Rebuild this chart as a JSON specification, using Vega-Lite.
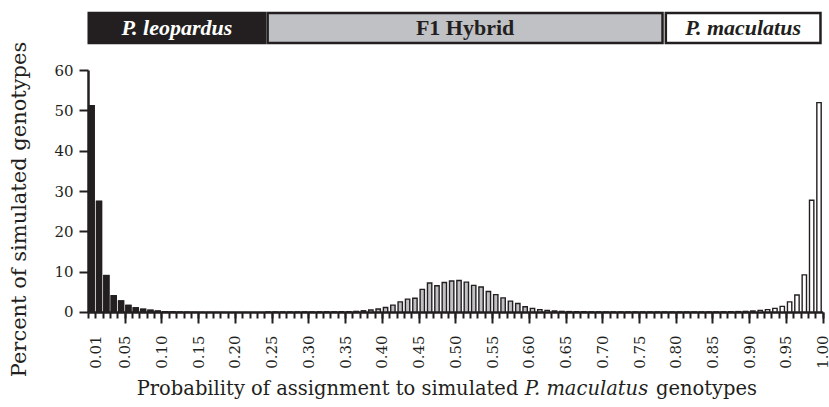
{
  "$schema": "https://vega.github.io/schema/vega-lite/v6.json",
  "padding": {"left": 8, "top": 11, "right": 2, "bottom": 2},
  "background": "white",
  "bounds": "flush",
  "spacing": 27,
  "config": {
    "view": {"stroke": null},
    "font": "DejaVu Serif",
    "axis": {
      "domainColor": "#231f20", "tickColor": "#231f20", "labelColor": "#231f20", "titleColor": "#231f20",
      "labelFont": "DejaVu Serif", "titleFont": "DejaVu Serif", "titleFontWeight": "normal",
      "grid": false, "domainWidth": 2.5, "tickWidth": 2, "labelFontSize": 15, "titleFontSize": 19.5
    }
  },
  "vconcat": [
    {
      "width": 734.7,
      "height": 30,
      "data": {"values": [
        {"label": "P. leopardus", "start": 0.001, "end": 0.241, "group": "leopardus", "italic": true},
        {"label": "F1 Hybrid", "start": 0.2445, "end": 0.782, "group": "hybrid", "italic": false},
        {"label": "P. maculatus", "start": 0.7865, "end": 0.997, "group": "maculatus", "italic": true}
      ]},
      "transform": [{"calculate": "(datum.start + datum.end) / 2", "as": "mid"}],
      "layer": [
        {
          "mark": {"type": "rect", "stroke": "#231f20", "strokeWidth": 2.5},
          "encoding": {
            "x": {"field": "start", "type": "quantitative", "scale": {"domain": [0, 1], "nice": false, "zero": false}, "axis": null},
            "x2": {"field": "end"},
            "fill": {"field": "group", "type": "nominal", "scale": {"domain": ["leopardus", "hybrid", "maculatus"], "range": ["#231f20", "#c0c1c5", "#ffffff"]}, "legend": null}
          }
        },
        {
          "transform": [{"filter": "datum.italic"}],
          "mark": {"type": "text", "font": "Liberation Serif", "fontSize": 22, "fontWeight": "bold", "fontStyle": "italic", "baseline": "middle"},
          "encoding": {
            "x": {"field": "mid", "type": "quantitative", "scale": {"domain": [0, 1], "nice": false, "zero": false}, "axis": null},
            "text": {"field": "label"},
            "color": {"field": "group", "type": "nominal", "scale": {"domain": ["leopardus", "maculatus"], "range": ["#ffffff", "#231f20"]}, "legend": null}
          }
        },
        {
          "transform": [{"filter": "!datum.italic"}],
          "mark": {"type": "text", "font": "Liberation Serif", "fontSize": 22, "fontWeight": "bold", "baseline": "middle", "color": "#231f20"},
          "encoding": {
            "x": {"field": "mid", "type": "quantitative", "scale": {"domain": [0, 1], "nice": false, "zero": false}, "axis": null},
            "text": {"field": "label"}
          }
        }
      ]
    },
    {
      "width": 734.7,
      "height": 242,
      "data": {"values": [
        {"bin_start": 0.00, "bin_end": 0.01, "percent": 51.3, "group": "leopardus"},
        {"bin_start": 0.01, "bin_end": 0.02, "percent": 27.6, "group": "leopardus"},
        {"bin_start": 0.02, "bin_end": 0.03, "percent": 9.2, "group": "leopardus"},
        {"bin_start": 0.03, "bin_end": 0.04, "percent": 4.2, "group": "leopardus"},
        {"bin_start": 0.04, "bin_end": 0.05, "percent": 2.9, "group": "leopardus"},
        {"bin_start": 0.05, "bin_end": 0.06, "percent": 1.8, "group": "leopardus"},
        {"bin_start": 0.06, "bin_end": 0.07, "percent": 1.2, "group": "leopardus"},
        {"bin_start": 0.07, "bin_end": 0.08, "percent": 0.85, "group": "leopardus"},
        {"bin_start": 0.08, "bin_end": 0.09, "percent": 0.6, "group": "leopardus"},
        {"bin_start": 0.09, "bin_end": 0.10, "percent": 0.4, "group": "leopardus"},
        {"bin_start": 0.10, "bin_end": 0.11, "percent": 0.25, "group": "leopardus"},
        {"bin_start": 0.11, "bin_end": 0.12, "percent": 0.18, "group": "leopardus"},
        {"bin_start": 0.12, "bin_end": 0.13, "percent": 0.12, "group": "leopardus"},
        {"bin_start": 0.13, "bin_end": 0.14, "percent": 0.08, "group": "leopardus"},
        {"bin_start": 0.14, "bin_end": 0.15, "percent": 0.06, "group": "leopardus"},
        {"bin_start": 0.15, "bin_end": 0.16, "percent": 0.05, "group": "leopardus"},
        {"bin_start": 0.16, "bin_end": 0.17, "percent": 0.04, "group": "leopardus"},
        {"bin_start": 0.17, "bin_end": 0.18, "percent": 0.03, "group": "leopardus"},
        {"bin_start": 0.18, "bin_end": 0.19, "percent": 0.03, "group": "leopardus"},
        {"bin_start": 0.19, "bin_end": 0.20, "percent": 0.02, "group": "leopardus"},
        {"bin_start": 0.20, "bin_end": 0.21, "percent": 0.02, "group": "leopardus"},
        {"bin_start": 0.21, "bin_end": 0.22, "percent": 0.02, "group": "leopardus"},
        {"bin_start": 0.22, "bin_end": 0.23, "percent": 0.02, "group": "leopardus"},
        {"bin_start": 0.23, "bin_end": 0.24, "percent": 0.02, "group": "leopardus"},
        {"bin_start": 0.24, "bin_end": 0.25, "percent": 0.02, "group": "hybrid"},
        {"bin_start": 0.25, "bin_end": 0.26, "percent": 0.02, "group": "hybrid"},
        {"bin_start": 0.26, "bin_end": 0.27, "percent": 0.02, "group": "hybrid"},
        {"bin_start": 0.27, "bin_end": 0.28, "percent": 0.02, "group": "hybrid"},
        {"bin_start": 0.28, "bin_end": 0.29, "percent": 0.02, "group": "hybrid"},
        {"bin_start": 0.29, "bin_end": 0.30, "percent": 0.03, "group": "hybrid"},
        {"bin_start": 0.30, "bin_end": 0.31, "percent": 0.03, "group": "hybrid"},
        {"bin_start": 0.31, "bin_end": 0.32, "percent": 0.04, "group": "hybrid"},
        {"bin_start": 0.32, "bin_end": 0.33, "percent": 0.05, "group": "hybrid"},
        {"bin_start": 0.33, "bin_end": 0.34, "percent": 0.06, "group": "hybrid"},
        {"bin_start": 0.34, "bin_end": 0.35, "percent": 0.08, "group": "hybrid"},
        {"bin_start": 0.35, "bin_end": 0.36, "percent": 0.1, "group": "hybrid"},
        {"bin_start": 0.36, "bin_end": 0.37, "percent": 0.15, "group": "hybrid"},
        {"bin_start": 0.37, "bin_end": 0.38, "percent": 0.3, "group": "hybrid"},
        {"bin_start": 0.38, "bin_end": 0.39, "percent": 0.5, "group": "hybrid"},
        {"bin_start": 0.39, "bin_end": 0.40, "percent": 0.75, "group": "hybrid"},
        {"bin_start": 0.40, "bin_end": 0.41, "percent": 1.1, "group": "hybrid"},
        {"bin_start": 0.41, "bin_end": 0.42, "percent": 1.7, "group": "hybrid"},
        {"bin_start": 0.42, "bin_end": 0.43, "percent": 2.5, "group": "hybrid"},
        {"bin_start": 0.43, "bin_end": 0.44, "percent": 3.2, "group": "hybrid"},
        {"bin_start": 0.44, "bin_end": 0.45, "percent": 3.4, "group": "hybrid"},
        {"bin_start": 0.45, "bin_end": 0.46, "percent": 5.6, "group": "hybrid"},
        {"bin_start": 0.46, "bin_end": 0.47, "percent": 7.2, "group": "hybrid"},
        {"bin_start": 0.47, "bin_end": 0.48, "percent": 6.5, "group": "hybrid"},
        {"bin_start": 0.48, "bin_end": 0.49, "percent": 7.3, "group": "hybrid"},
        {"bin_start": 0.49, "bin_end": 0.50, "percent": 7.7, "group": "hybrid"},
        {"bin_start": 0.50, "bin_end": 0.51, "percent": 7.8, "group": "hybrid"},
        {"bin_start": 0.51, "bin_end": 0.52, "percent": 7.4, "group": "hybrid"},
        {"bin_start": 0.52, "bin_end": 0.53, "percent": 6.6, "group": "hybrid"},
        {"bin_start": 0.53, "bin_end": 0.54, "percent": 6.2, "group": "hybrid"},
        {"bin_start": 0.54, "bin_end": 0.55, "percent": 5.1, "group": "hybrid"},
        {"bin_start": 0.55, "bin_end": 0.56, "percent": 4.3, "group": "hybrid"},
        {"bin_start": 0.56, "bin_end": 0.57, "percent": 3.5, "group": "hybrid"},
        {"bin_start": 0.57, "bin_end": 0.58, "percent": 2.7, "group": "hybrid"},
        {"bin_start": 0.58, "bin_end": 0.59, "percent": 2.1, "group": "hybrid"},
        {"bin_start": 0.59, "bin_end": 0.60, "percent": 1.3, "group": "hybrid"},
        {"bin_start": 0.60, "bin_end": 0.61, "percent": 0.9, "group": "hybrid"},
        {"bin_start": 0.61, "bin_end": 0.62, "percent": 0.6, "group": "hybrid"},
        {"bin_start": 0.62, "bin_end": 0.63, "percent": 0.4, "group": "hybrid"},
        {"bin_start": 0.63, "bin_end": 0.64, "percent": 0.25, "group": "hybrid"},
        {"bin_start": 0.64, "bin_end": 0.65, "percent": 0.15, "group": "hybrid"},
        {"bin_start": 0.65, "bin_end": 0.66, "percent": 0.1, "group": "hybrid"},
        {"bin_start": 0.66, "bin_end": 0.67, "percent": 0.07, "group": "hybrid"},
        {"bin_start": 0.67, "bin_end": 0.68, "percent": 0.05, "group": "hybrid"},
        {"bin_start": 0.68, "bin_end": 0.69, "percent": 0.04, "group": "hybrid"},
        {"bin_start": 0.69, "bin_end": 0.70, "percent": 0.03, "group": "hybrid"},
        {"bin_start": 0.70, "bin_end": 0.71, "percent": 0.02, "group": "hybrid"},
        {"bin_start": 0.71, "bin_end": 0.72, "percent": 0.02, "group": "hybrid"},
        {"bin_start": 0.72, "bin_end": 0.73, "percent": 0.02, "group": "hybrid"},
        {"bin_start": 0.73, "bin_end": 0.74, "percent": 0.02, "group": "hybrid"},
        {"bin_start": 0.74, "bin_end": 0.75, "percent": 0.02, "group": "hybrid"},
        {"bin_start": 0.75, "bin_end": 0.76, "percent": 0.02, "group": "hybrid"},
        {"bin_start": 0.76, "bin_end": 0.77, "percent": 0.02, "group": "hybrid"},
        {"bin_start": 0.77, "bin_end": 0.78, "percent": 0.02, "group": "hybrid"},
        {"bin_start": 0.78, "bin_end": 0.79, "percent": 0.02, "group": "maculatus"},
        {"bin_start": 0.79, "bin_end": 0.80, "percent": 0.02, "group": "maculatus"},
        {"bin_start": 0.80, "bin_end": 0.81, "percent": 0.02, "group": "maculatus"},
        {"bin_start": 0.81, "bin_end": 0.82, "percent": 0.02, "group": "maculatus"},
        {"bin_start": 0.82, "bin_end": 0.83, "percent": 0.02, "group": "maculatus"},
        {"bin_start": 0.83, "bin_end": 0.84, "percent": 0.02, "group": "maculatus"},
        {"bin_start": 0.84, "bin_end": 0.85, "percent": 0.02, "group": "maculatus"},
        {"bin_start": 0.85, "bin_end": 0.86, "percent": 0.03, "group": "maculatus"},
        {"bin_start": 0.86, "bin_end": 0.87, "percent": 0.05, "group": "maculatus"},
        {"bin_start": 0.87, "bin_end": 0.88, "percent": 0.07, "group": "maculatus"},
        {"bin_start": 0.88, "bin_end": 0.89, "percent": 0.1, "group": "maculatus"},
        {"bin_start": 0.89, "bin_end": 0.90, "percent": 0.15, "group": "maculatus"},
        {"bin_start": 0.90, "bin_end": 0.91, "percent": 0.25, "group": "maculatus"},
        {"bin_start": 0.91, "bin_end": 0.92, "percent": 0.4, "group": "maculatus"},
        {"bin_start": 0.92, "bin_end": 0.93, "percent": 0.6, "group": "maculatus"},
        {"bin_start": 0.93, "bin_end": 0.94, "percent": 0.9, "group": "maculatus"},
        {"bin_start": 0.94, "bin_end": 0.95, "percent": 1.4, "group": "maculatus"},
        {"bin_start": 0.95, "bin_end": 0.96, "percent": 2.5, "group": "maculatus"},
        {"bin_start": 0.96, "bin_end": 0.97, "percent": 4.2, "group": "maculatus"},
        {"bin_start": 0.97, "bin_end": 0.98, "percent": 9.2, "group": "maculatus"},
        {"bin_start": 0.98, "bin_end": 0.99, "percent": 27.7, "group": "maculatus"},
        {"bin_start": 0.99, "bin_end": 1.00, "percent": 51.9, "group": "maculatus"}
      ]},
      "resolve": {"axis": {"x": "independent"}},
      "layer": [
        {
          "transform": [{"filter": "datum.group === 'leopardus'"}],
          "mark": {"type": "bar", "color": "#231f20", "xOffset": 0.5, "x2Offset": -0.5},
          "encoding": {
            "x": {
              "field": "bin_start", "type": "quantitative",
              "scale": {"domain": [0, 1], "nice": false, "zero": false},
              "axis": {
                "orient": "bottom",
                "values": [0, 0.01, 0.02, 0.03, 0.04, 0.05, 0.06, 0.07, 0.08, 0.09, 0.1, 0.11, 0.12, 0.13, 0.14, 0.15, 0.16, 0.17, 0.18, 0.19, 0.2, 0.21, 0.22, 0.23, 0.24, 0.25, 0.26, 0.27, 0.28, 0.29, 0.3, 0.31, 0.32, 0.33, 0.34, 0.35, 0.36, 0.37, 0.38, 0.39, 0.4, 0.41, 0.42, 0.43, 0.44, 0.45, 0.46, 0.47, 0.48, 0.49, 0.5, 0.51, 0.52, 0.53, 0.54, 0.55, 0.56, 0.57, 0.58, 0.59, 0.6, 0.61, 0.62, 0.63, 0.64, 0.65, 0.66, 0.67, 0.68, 0.69, 0.7, 0.71, 0.72, 0.73, 0.74, 0.75, 0.76, 0.77, 0.78, 0.79, 0.8, 0.81, 0.82, 0.83, 0.84, 0.85, 0.86, 0.87, 0.88, 0.89, 0.9, 0.91, 0.92, 0.93, 0.94, 0.95, 0.96, 0.97, 0.98, 0.99, 1],
                "tickSize": 6,
                "labelAngle": 270, "labelAlign": "right", "labelBaseline": "middle",
                "labelPadding": 17, "labelOverlap": false, "labelFlush": false, "labelBound": false,
                "labelExpr": "(abs(datum.value - 0.01) < 0.0001 || (datum.value > 0.001 && abs(datum.value * 20 - round(datum.value * 20)) < 0.0001)) ? format(datum.value, '.2f') : ''",
                "title": "Probability of assignment to simulated",
                "titleX": 239, "titleY": 83, "titleAlign": "center", "titleBaseline": "alphabetic"
              }
            },
            "x2": {"field": "bin_end"},
            "y": {
              "field": "percent", "type": "quantitative",
              "scale": {"domain": [0, 60], "nice": false},
              "axis": {"values": [0, 10, 20, 30, 40, 50, 60], "tickSize": 9, "labelPadding": 6, "title": "Percent of simulated genotypes", "titleFontSize": 21, "titleY": 139, "titleAlign": "center", "titlePadding": 24}
            },
            "y2": {"datum": 0}
          }
        },
        {
          "transform": [{"filter": "datum.group !== 'leopardus'"}],
          "mark": {"type": "bar", "stroke": "#231f20", "strokeWidth": 1.4, "xOffset": 1.5, "x2Offset": -1.5},
          "encoding": {
            "x": {
              "field": "bin_start", "type": "quantitative",
              "scale": {"domain": [0, 1], "nice": false, "zero": false},
              "axis": {
                "orient": "bottom",
                "values": [0.05, 0.1, 0.15, 0.2, 0.25, 0.3, 0.35, 0.4, 0.45, 0.5, 0.55, 0.6, 0.65, 0.7, 0.75, 0.8, 0.85, 0.9, 0.95, 1],
                "tickSize": 11, "labels": false, "domain": false,
                "title": "P. maculatus", "titleFontStyle": "italic",
                "titleX": 498, "titleY": 83, "titleAlign": "center", "titleBaseline": "alphabetic"
              }
            },
            "x2": {"field": "bin_end"},
            "y": {
              "field": "percent", "type": "quantitative",
              "scale": {"domain": [0, 60], "nice": false},
              "axis": {"values": [0, 10, 20, 30, 40, 50, 60], "tickSize": 9, "labelPadding": 6, "title": "Percent of simulated genotypes", "titleFontSize": 21, "titleY": 139, "titleAlign": "center", "titlePadding": 24}
            },
            "y2": {"datum": 0},
            "fill": {"field": "group", "type": "nominal", "scale": {"domain": ["hybrid", "maculatus"], "range": ["#bcbec0", "#ffffff"]}, "legend": null}
          }
        },
        {
          "transform": [{"filter": "datum.group === 'leopardus'"}],
          "mark": {"type": "bar", "color": "#231f20", "xOffset": 0.5, "x2Offset": -0.5},
          "encoding": {
            "x": {
              "field": "bin_start", "type": "quantitative",
              "scale": {"domain": [0, 1], "nice": false, "zero": false},
              "axis": {
                "orient": "bottom", "values": [], "ticks": false, "labels": false, "domain": false,
                "title": "genotypes",
                "titleX": 618, "titleY": 83, "titleAlign": "center", "titleBaseline": "alphabetic"
              }
            },
            "x2": {"field": "bin_end"},
            "y": {
              "field": "percent", "type": "quantitative",
              "scale": {"domain": [0, 60], "nice": false},
              "axis": {"values": [0, 10, 20, 30, 40, 50, 60], "tickSize": 9, "labelPadding": 6, "title": "Percent of simulated genotypes", "titleFontSize": 21, "titleY": 139, "titleAlign": "center", "titlePadding": 24}
            },
            "y2": {"datum": 0}
          }
        }
      ]
    }
  ]
}
